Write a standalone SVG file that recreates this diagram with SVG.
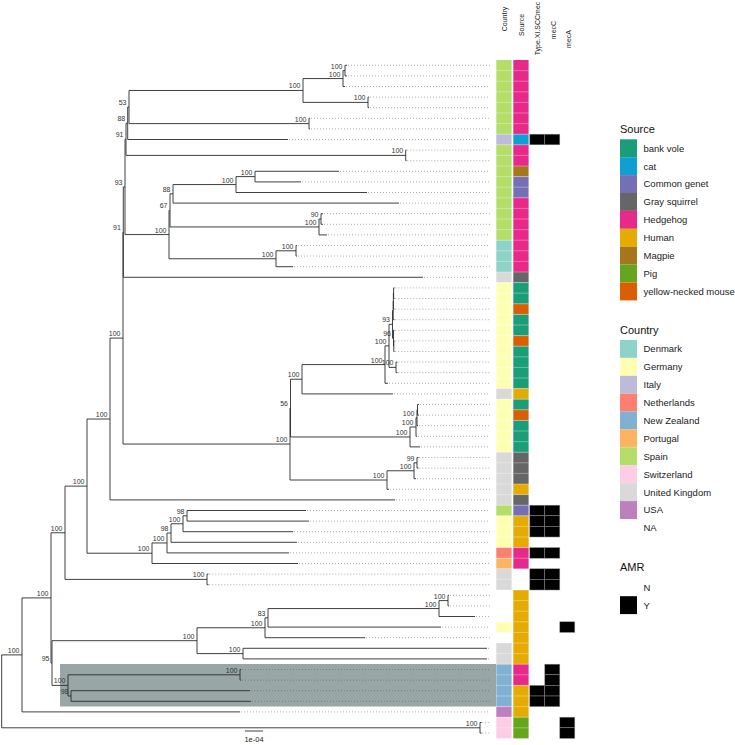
<svg xmlns="http://www.w3.org/2000/svg" width="735" height="745" viewBox="0 0 735 745">
<style>
text{font-family:"Liberation Sans",Arial,sans-serif}
.bs{font-size:7px;fill:#333;text-anchor:end}
.hd{font-size:7px;fill:#222;text-anchor:middle}
.lt{font-size:9.5px;fill:#222}
.ttl{font-size:11px;fill:#111}
.br{fill:none;stroke:#2b2b2b;stroke-width:0.9}
.dot{fill:none;stroke:#555;stroke-width:0.7;stroke-dasharray:0.7 2.3}
.es{fill:#B3DE69}.it{fill:#BEBADA}.dk{fill:#8DD3C7}.uk{fill:#D9D9D9}.de{fill:#FFFFB3}.nl{fill:#FB8072}.nz{fill:#80B1D3}.pt{fill:#FDB462}.ch{fill:#FCCDE5}.us{fill:#BC80BD}
.bv{fill:#1B9E77}.cat{fill:#109FD5}.cg{fill:#7570B3}.gs{fill:#666666}.hh{fill:#E7298A}.hu{fill:#E6AB02}.mg{fill:#A6761D}.pig{fill:#66A61E}.ym{fill:#D95F02}
.blk{fill:#000;stroke:#888;stroke-width:0.5}
</style>
<rect width="735" height="745" fill="#fff"/>
<g id="highlight"><rect x="60" y="664" width="436" height="42.5" fill="#98a7a5"/></g>
<g id="connectors">
<path class="br" d="M345 65.3V75.9M345 65.3H347M345 75.9H347
M343 70.6V86.5M343 70.6H345M343 86.5H345
M368 97.1V107.7M368 97.1H369M368 107.7H369
M303 78.55V102.4M303 78.55H343M303 102.4H368
M309 118.3V128.9M309 118.3H310M309 128.9H310
M129 90.48V123.6M129 90.48H303M129 123.6H309
M127.7 107.04V139.5M127.7 107.04H129M127.7 139.5H288
M405.7 150.1V160.7M405.7 150.1H406.5M405.7 160.7H406.5
M126 123.27V155.4M126 123.27H127.7M126 155.4H405.7
M255 171.3V181.9M255 171.3H339M255 181.9H301
M236 176.6V192.5M236 176.6H255M236 192.5H367
M173 184.55V203.1M173 184.55H236M173 203.1H399
M321 213.7V224.3M321 213.7H323M321 224.3H323
M319 219V234.9M319 219H321M319 234.9H327
M170 193.83V226.95M170 193.83H173M170 226.95H319
M296 245.5V256.1M296 245.5H297M296 256.1H297
M276 250.8V266.7M276 250.8H296M276 266.7H293
M169 210.39V258.75M169 210.39H170M169 258.75H276
M125 139.34V234.57M125 139.34H126M125 234.57H169
M123.3 186.96V277.3M123.3 186.96H125M123.3 277.3H423
M393.6 287.9V298.5M393.6 287.9H394.5M393.6 298.5H394.5
M393.4 293.2V309.1M393.4 309.1H394.5
M393.2 301.15V319.7M393.2 319.7H394.5
M393.8 340.9V351.5M393.8 340.9H394.5M393.8 351.5H394.5
M393.5 330.3V346.2M393.5 330.3H394.5
M392.5 310.43V338.25M392.5 310.43H393.2M392.5 338.25H393.5
M396 362.1V372.7M396 362.1H397.5M396 372.7H397.5
M389 324.34V367.4M389 324.34H392.5M389 367.4H396
M385 345.87V383.3M385 345.87H389M385 383.3H388
M302 364.59V393.9M302 364.59H385M302 393.9H393
M417.5 404.5V415.1M417.5 404.5H419M417.5 415.1H419
M417 409.8V425.7M417 425.7H418
M416 417.75V436.3M416 417.75H417M416 436.3H417
M410 427.03V446.9M410 427.03H416M410 446.9H420
M290.5 379.24V436.96M290.5 379.24H302M290.5 436.96H410
M417 457.5V468.1M417 457.5H418.5M417 468.1H418.5
M414 462.8V478.7M414 462.8H417M414 478.7H416
M387 470.75V489.3M387 470.75H414M387 489.3H389
M290 408.1V480.03M290 480.03H387
M123 232.13V444.06M123 444.06H290
M110 338.1V499.9M110 338.1H123M110 499.9H395
M187 510.5V521.1M187 510.5H306M187 521.1H309
M183 515.8V531.7M183 515.8H187M183 531.7H293
M171 523.75V542.3M171 523.75H183M171 542.3H297
M167 533.03V552.9M167 533.03H171M167 552.9H289
M152 542.96V563.5M152 542.96H167M152 563.5H298
M87 419V553.23M87 419H110M87 553.23H152
M207 574.1V584.7M207 574.1H208.5M207 584.7H208.5
M65 486.12V579.4M65 486.12H87M65 579.4H207
M448 595.3V605.9M448 595.3H449M448 605.9H449
M439 600.6V616.5M439 600.6H448M439 616.5H475
M268 608.55V627.1M268 608.55H439M268 627.1H441
M265 617.83V637.7M265 617.83H268M265 637.7H365
M243 648.3V658.9M243 648.3H487M243 658.9H487
M197 627.76V653.6M197 627.76H265M197 653.6H243
M240 669.5V680.1M240 669.5H241M240 680.1H241
M71 690.7V701.3M71 690.7H250M71 701.3H251
M68 674.8V696M68 674.8H240M68 696H71
M52 640.68V685.4M52 640.68H197M52 685.4H68
M51 532.76V663.04M51 532.76H65M51 663.04H52
M22 597.9V711.9M22 597.9H51M22 711.9H240
M480 722.5V733.1M480 722.5H481.5M480 733.1H481.5
M1.7 654.9V727.8M1.7 654.9H22M1.7 727.8H480"/>
<path class="dot" d="M348 65.3H490M348 75.9H490M346 86.5H490M370 97.1H490M370 107.7H490M311 118.3H490M311 128.9H490M289 139.5H490M407.5 150.1H490M407.5 160.7H490M340 171.3H490M302 181.9H490M368 192.5H490M400 203.1H490M324 213.7H490M324 224.3H490M328 234.9H490M298 245.5H490M298 256.1H490M294 266.7H490M424 277.3H490
M395.5 287.9H490M395.5 298.5H490M395.5 309.1H490M395.5 319.7H490M395.5 330.3H490M395.5 340.9H490M395.5 351.5H490M398.5 362.1H490M398.5 372.7H490M389 383.3H490M394 393.9H490M420 404.5H490M420 415.1H490M419 425.7H490M418 436.3H490M421 446.9H490M419.5 457.5H490M419.5 468.1H490M417 478.7H490M390 489.3H490M396 499.9H490
M307 510.5H490M310 521.1H490M294 531.7H490M298 542.3H490M290 552.9H490M299 563.5H490M209.5 574.1H490M209.5 584.7H490M450 595.3H490M450 605.9H490M476 616.5H490M442 627.1H490M366 637.7H490M488 648.3H490M488 658.9H490M242 669.5H490M242 680.1H490M251 690.7H490M252 701.3H490M241 711.9H490M482.5 722.5H490M482.5 733.1H490"/>
</g>
<g id="bootstrap">
<text class="bs" x="342.5" y="68.6">100</text>
<text class="bs" x="340.5" y="76.55">100</text>
<text class="bs" x="365.5" y="100.4">100</text>
<text class="bs" x="300.5" y="88.48">100</text>
<text class="bs" x="306.5" y="121.6">100</text>
<text class="bs" x="126.5" y="105.04">53</text>
<text class="bs" x="125.2" y="121.27">88</text>
<text class="bs" x="403.2" y="153.4">100</text>
<text class="bs" x="123.5" y="137.34">91</text>
<text class="bs" x="252.5" y="174.6">100</text>
<text class="bs" x="233.5" y="182.55">100</text>
<text class="bs" x="170.5" y="191.83">88</text>
<text class="bs" x="318.5" y="217">90</text>
<text class="bs" x="316.5" y="224.95">100</text>
<text class="bs" x="167.5" y="208.39">67</text>
<text class="bs" x="293.5" y="248.8">100</text>
<text class="bs" x="273.5" y="256.75">100</text>
<text class="bs" x="166.5" y="232.57">100</text>
<text class="bs" x="122.5" y="184.96">93</text>
<text class="bs" x="120.8" y="230.13">91</text>
<text class="bs" x="391" y="336.25">96</text>
<text class="bs" x="390" y="322.34">93</text>
<text class="bs" x="393.5" y="365.4">100</text>
<text class="bs" x="386.5" y="343.87">100</text>
<text class="bs" x="382.5" y="362.59">100</text>
<text class="bs" x="299.5" y="377.24">100</text>
<text class="bs" x="414.5" y="415.75">100</text>
<text class="bs" x="413.5" y="425.03">100</text>
<text class="bs" x="407.5" y="434.96">100</text>
<text class="bs" x="288" y="406.1">56</text>
<text class="bs" x="414.5" y="460.8">99</text>
<text class="bs" x="411.5" y="468.75">100</text>
<text class="bs" x="384.5" y="478.03">100</text>
<text class="bs" x="287.5" y="442.06">100</text>
<text class="bs" x="120.5" y="336.1">100</text>
<text class="bs" x="107.5" y="417">100</text>
<text class="bs" x="184.5" y="513.8">98</text>
<text class="bs" x="180.5" y="521.75">100</text>
<text class="bs" x="168.5" y="531.03">98</text>
<text class="bs" x="164.5" y="540.96">100</text>
<text class="bs" x="149.5" y="551.23">100</text>
<text class="bs" x="84.5" y="484.12">100</text>
<text class="bs" x="204.5" y="577.4">100</text>
<text class="bs" x="62.5" y="530.76">100</text>
<text class="bs" x="445.5" y="598.6">100</text>
<text class="bs" x="436.5" y="606.55">100</text>
<text class="bs" x="265.5" y="615.83">83</text>
<text class="bs" x="262.5" y="625.76">100</text>
<text class="bs" x="240.5" y="651.6">100</text>
<text class="bs" x="194.5" y="638.68">100</text>
<text class="bs" x="237.5" y="672.8">100</text>
<text class="bs" x="68.5" y="694">98</text>
<text class="bs" x="65.5" y="683.4">100</text>
<text class="bs" x="49.5" y="661.04">95</text>
<text class="bs" x="48.5" y="595.9">100</text>
<text class="bs" x="19.5" y="652.9">100</text>
<text class="bs" x="477.5" y="725.8">100</text>
</g>
<g id="scalebar">
<path d="M245 731H263" stroke="#2b2b2b" stroke-width="0.9"/>
<text x="254" y="741.5" font-size="7.5" fill="#222" text-anchor="middle">1e-04</text>
</g>
<g id="heatmap-country">
<rect class="es" x="496.3" y="60" width="15.3" height="74.2"/>
<rect class="it" x="496.3" y="134.2" width="15.3" height="10.6"/>
<rect class="es" x="496.3" y="144.8" width="15.3" height="95.4"/>
<rect class="dk" x="496.3" y="240.2" width="15.3" height="31.8"/>
<rect class="uk" x="496.3" y="272" width="15.3" height="10.6"/>
<rect class="de" x="496.3" y="282.6" width="15.3" height="106"/>
<rect class="uk" x="496.3" y="388.6" width="15.3" height="10.6"/>
<rect class="de" x="496.3" y="399.2" width="15.3" height="53"/>
<rect class="uk" x="496.3" y="452.2" width="15.3" height="53"/>
<rect class="es" x="496.3" y="505.2" width="15.3" height="10.6"/>
<rect class="de" x="496.3" y="515.8" width="15.3" height="31.8"/>
<rect class="nl" x="496.3" y="547.6" width="15.3" height="10.6"/>
<rect class="pt" x="496.3" y="558.2" width="15.3" height="10.6"/>
<rect class="uk" x="496.3" y="568.8" width="15.3" height="21.2"/>
<rect class="de" x="496.3" y="621.8" width="15.3" height="10.6"/>
<rect class="uk" x="496.3" y="643" width="15.3" height="21.2"/>
<rect class="nz" x="496.3" y="664.2" width="15.3" height="42.4"/>
<rect class="us" x="496.3" y="706.6" width="15.3" height="10.6"/>
<rect class="ch" x="496.3" y="717.2" width="15.3" height="21.2"/>
</g>
<g id="heatmap-source">
<rect class="hh" x="513.3" y="60" width="15.3" height="74.2"/>
<rect class="cat" x="513.3" y="134.2" width="15.3" height="10.6"/>
<rect class="hh" x="513.3" y="144.8" width="15.3" height="21.2"/>
<rect class="mg" x="513.3" y="166" width="15.3" height="10.6"/>
<rect class="cg" x="513.3" y="176.6" width="15.3" height="21.2"/>
<rect class="hh" x="513.3" y="197.8" width="15.3" height="74.2"/>
<rect class="gs" x="513.3" y="272" width="15.3" height="10.6"/>
<rect class="bv" x="513.3" y="282.6" width="15.3" height="21.2"/>
<rect class="ym" x="513.3" y="303.8" width="15.3" height="10.6"/>
<rect class="bv" x="513.3" y="314.4" width="15.3" height="21.2"/>
<rect class="ym" x="513.3" y="335.6" width="15.3" height="10.6"/>
<rect class="bv" x="513.3" y="346.2" width="15.3" height="42.4"/>
<rect class="hu" x="513.3" y="388.6" width="15.3" height="10.6"/>
<rect class="bv" x="513.3" y="399.2" width="15.3" height="10.6"/>
<rect class="ym" x="513.3" y="409.8" width="15.3" height="10.6"/>
<rect class="bv" x="513.3" y="420.4" width="15.3" height="31.8"/>
<rect class="gs" x="513.3" y="452.2" width="15.3" height="31.8"/>
<rect class="hu" x="513.3" y="484" width="15.3" height="10.6"/>
<rect class="gs" x="513.3" y="494.6" width="15.3" height="10.6"/>
<rect class="cg" x="513.3" y="505.2" width="15.3" height="10.6"/>
<rect class="hu" x="513.3" y="515.8" width="15.3" height="31.8"/>
<rect class="hh" x="513.3" y="547.6" width="15.3" height="21.2"/>
<rect class="hu" x="513.3" y="590" width="15.3" height="74.2"/>
<rect class="hh" x="513.3" y="664.2" width="15.3" height="21.2"/>
<rect class="hu" x="513.3" y="685.4" width="15.3" height="31.8"/>
<rect class="pig" x="513.3" y="717.2" width="15.3" height="21.2"/>
</g>
<path id="cell-grid" fill="none" stroke="#fff" stroke-width="0.6" stroke-opacity="0.55" d="M496 70.6H529M496 81.2H529M496 91.8H529M496 102.4H529M496 113H529M496 123.6H529M496 134.2H529M496 144.8H529M496 155.4H529M496 166H529M496 176.6H529M496 187.2H529M496 197.8H529M496 208.4H529M496 219H529M496 229.6H529M496 240.2H529M496 250.8H529M496 261.4H529M496 272H529M496 282.6H529M496 293.2H529M496 303.8H529M496 314.4H529M496 325H529M496 335.6H529M496 346.2H529M496 356.8H529M496 367.4H529M496 378H529M496 388.6H529M496 399.2H529M496 409.8H529M496 420.4H529M496 431H529M496 441.6H529M496 452.2H529M496 462.8H529M496 473.4H529M496 484H529M496 494.6H529M496 505.2H529M496 515.8H529M496 526.4H529M496 537H529M496 547.6H529M496 558.2H529M496 568.8H529M496 579.4H529M496 590H529M496 600.6H529M496 611.2H529M496 621.8H529M496 632.4H529M496 643H529M496 653.6H529M496 664.2H529M496 674.8H529M496 685.4H529M496 696H529M496 706.6H529M496 717.2H529M496 727.8H529"/>
<g id="heatmap-amr">
<rect class="blk" x="529.8" y="134.2" width="15" height="10.6"/>
<rect class="blk" x="544.8" y="134.2" width="15" height="10.6"/>
<rect class="blk" x="529.8" y="505.2" width="15" height="10.6"/>
<rect class="blk" x="544.8" y="505.2" width="15" height="10.6"/>
<rect class="blk" x="529.8" y="515.8" width="15" height="10.6"/>
<rect class="blk" x="544.8" y="515.8" width="15" height="10.6"/>
<rect class="blk" x="529.8" y="526.4" width="15" height="10.6"/>
<rect class="blk" x="544.8" y="526.4" width="15" height="10.6"/>
<rect class="blk" x="529.8" y="547.6" width="15" height="10.6"/>
<rect class="blk" x="544.8" y="547.6" width="15" height="10.6"/>
<rect class="blk" x="529.8" y="568.8" width="15" height="10.6"/>
<rect class="blk" x="544.8" y="568.8" width="15" height="10.6"/>
<rect class="blk" x="529.8" y="579.4" width="15" height="10.6"/>
<rect class="blk" x="544.8" y="579.4" width="15" height="10.6"/>
<rect class="blk" x="559.8" y="621.8" width="15" height="10.6"/>
<rect class="blk" x="544.8" y="664.2" width="15" height="10.6"/>
<rect class="blk" x="544.8" y="674.8" width="15" height="10.6"/>
<rect class="blk" x="529.8" y="685.4" width="15" height="10.6"/>
<rect class="blk" x="544.8" y="685.4" width="15" height="10.6"/>
<rect class="blk" x="529.8" y="696" width="15" height="10.6"/>
<rect class="blk" x="544.8" y="696" width="15" height="10.6"/>
<rect class="blk" x="559.8" y="717.2" width="15" height="10.6"/>
<rect class="blk" x="559.8" y="727.8" width="15" height="10.6"/>
</g>
<g id="column-headers">
<text class="hd" transform="translate(507 19) rotate(-90)">Country</text>
<text class="hd" transform="translate(523.5 25) rotate(-90)">Source</text>
<text class="hd" transform="translate(539.5 28.5) rotate(-90)">Type.XI.SCCmec</text>
<text class="hd" transform="translate(556 30) rotate(-90)">mecC</text>
<text class="hd" transform="translate(571 39) rotate(-90)">mecA</text>
</g>
<g id="legend-source">
<text class="ttl" x="620" y="132.5">Source</text>
<rect class="bv" x="620" y="139.3" width="17" height="17.9"/>
<rect class="cat" x="620" y="157.2" width="17" height="17.9"/>
<rect class="cg" x="620" y="175.1" width="17" height="17.9"/>
<rect class="gs" x="620" y="193" width="17" height="17.9"/>
<rect class="hh" x="620" y="210.9" width="17" height="17.9"/>
<rect class="hu" x="620" y="228.8" width="17" height="17.9"/>
<rect class="mg" x="620" y="246.7" width="17" height="17.9"/>
<rect class="pig" x="620" y="264.6" width="17" height="17.9"/>
<rect class="ym" x="620" y="282.5" width="17" height="17.9"/>
<text class="lt" x="643.5" y="151.6">bank vole</text>
<text class="lt" x="643.5" y="169.5">cat</text>
<text class="lt" x="643.5" y="187.4">Common genet</text>
<text class="lt" x="643.5" y="205.3">Gray squirrel</text>
<text class="lt" x="643.5" y="223.2">Hedgehog</text>
<text class="lt" x="643.5" y="241.1">Human</text>
<text class="lt" x="643.5" y="259">Magpie</text>
<text class="lt" x="643.5" y="276.9">Pig</text>
<text class="lt" x="643.5" y="294.8">yellow-necked mouse</text>
</g>
<g id="legend-country">
<text class="ttl" x="620" y="333.5">Country</text>
<rect class="dk" x="620" y="340" width="17" height="17.9"/>
<rect class="de" x="620" y="357.9" width="17" height="17.9"/>
<rect class="it" x="620" y="375.8" width="17" height="17.9"/>
<rect class="nl" x="620" y="393.7" width="17" height="17.9"/>
<rect class="nz" x="620" y="411.6" width="17" height="17.9"/>
<rect class="pt" x="620" y="429.5" width="17" height="17.9"/>
<rect class="es" x="620" y="447.4" width="17" height="17.9"/>
<rect class="ch" x="620" y="465.3" width="17" height="17.9"/>
<rect class="uk" x="620" y="483.2" width="17" height="17.9"/>
<rect class="us" x="620" y="501.1" width="17" height="17.9"/>
<text class="lt" x="643.5" y="352.3">Denmark</text>
<text class="lt" x="643.5" y="370.2">Germany</text>
<text class="lt" x="643.5" y="388.1">Italy</text>
<text class="lt" x="643.5" y="406">Netherlands</text>
<text class="lt" x="643.5" y="423.9">New Zealand</text>
<text class="lt" x="643.5" y="441.8">Portugal</text>
<text class="lt" x="643.5" y="459.7">Spain</text>
<text class="lt" x="643.5" y="477.6">Switzerland</text>
<text class="lt" x="643.5" y="495.5">United Kingdom</text>
<text class="lt" x="643.5" y="513.4">USA</text>
<text class="lt" x="643.5" y="531.3">NA</text>
</g>
<g id="legend-amr">
<text class="ttl" x="620" y="571">AMR</text>
<rect x="620" y="596.2" width="17" height="17.9" fill="#000"/>
<text class="lt" x="643.5" y="590.6">N</text>
<text class="lt" x="643.5" y="608.5">Y</text>
</g>
</svg>
